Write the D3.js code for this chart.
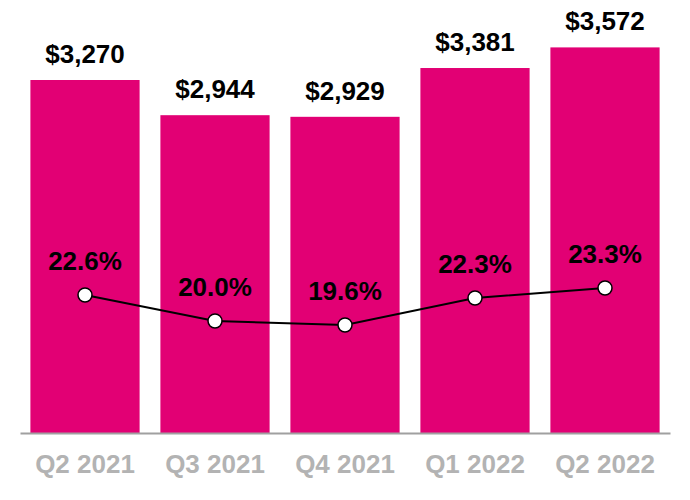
<!DOCTYPE html>
<html>
<head>
<meta charset="utf-8">
<script src="https://cdn.jsdelivr.net/npm/d3@7"></script>
<style>
  body { margin: 0; background: #fff; }
  text { font-family: "Liberation Sans", Arial, sans-serif; font-weight: bold; }
</style>
</head>
<body>
<script>
// quarters, revenue ($M) and margin (%)
const quarters = ['Q2 2021', 'Q3 2021', 'Q4 2021', 'Q1 2022', 'Q2 2022'];
const revenue = [3270, 2944, 2929, 3381, 3572];
const margin = [22.6, 20.0, 19.6, 22.3, 23.3];

const svgWidth = 690;
const svgHeight = 500;
const baseY = 433;

const svg = d3.select('body')
  .append('svg')
  .attr('width', svgWidth)
  .attr('height', svgHeight);

const x = d3.scaleBand()
  .domain(quarters)
  .range([20, 670])
  .paddingInner(0.16)
  .paddingOuter(0.08);

// bars start at zero
const y = d3.scaleLinear().domain([0, 3270]).range([baseY, 80]);

// margin line has its own scale
const yPct = d3.scaleLinear().domain([0, 30]).range([521, 221]);

const rows = quarters.map((q, i) => ({ q, rev: revenue[i], pct: margin[i] }));

svg.selectAll('rect.bar')
  .data(rows)
  .join('rect')
  .attr('class', 'bar')
  .attr('x', d => x(d.q))
  .attr('y', d => y(d.rev))
  .attr('width', x.bandwidth())
  .attr('height', d => baseY - y(d.rev))
  .attr('fill', '#e20074');

svg.selectAll('text.val')
  .data(rows)
  .join('text')
  .attr('class', 'val')
  .attr('x', d => x(d.q) + x.bandwidth() / 2)
  .attr('y', d => y(d.rev) - 17)
  .attr('text-anchor', 'middle')
  .attr('font-size', 26)
  .attr('fill', '#000')
  .text(d => '$' + d3.format(',')(d.rev));

// x axis
const xAxis = d3.axisBottom(x).tickSize(0).tickPadding(22);
const gx = svg.append('g')
  .attr('transform', `translate(0, ${baseY})`)
  .call(xAxis);
gx.select('.domain').attr('stroke', '#a0a0a0').attr('stroke-width', 2);
gx.selectAll('text')
  .attr('font-size', 26)
  .attr('font-family', '"Liberation Sans", Arial, sans-serif')
  .attr('font-weight', 'bold')
  .attr('fill', '#b3b3b3')
  .attr('dy', '0.71em');

// margin line
const line = d3.line()
  .x(d => x(d.q) + x.bandwidth() / 2)
  .y(d => yPct(d.pct));

svg.append('path')
  .datum(rows)
  .attr('fill', 'none')
  .attr('stroke', '#000')
  .attr('stroke-width', 2)
  .attr('d', line);

svg.selectAll('circle.pt')
  .data(rows)
  .join('circle')
  .attr('class', 'pt')
  .attr('cx', d => x(d.q) + x.bandwidth() / 2)
  .attr('cy', d => yPct(d.pct))
  .attr('r', 7)
  .attr('fill', '#fff')
  .attr('stroke', '#000')
  .attr('stroke-width', 1.5);

svg.selectAll('text.pct')
  .data(rows)
  .join('text')
  .attr('class', 'pct')
  .attr('x', d => x(d.q) + x.bandwidth() / 2)
  .attr('y', d => yPct(d.pct) - 25)
  .attr('text-anchor', 'middle')
  .attr('font-size', 26)
  .attr('fill', '#000')
  .text(d => d.pct.toFixed(1) + '%');
</script>
</body>
</html>
